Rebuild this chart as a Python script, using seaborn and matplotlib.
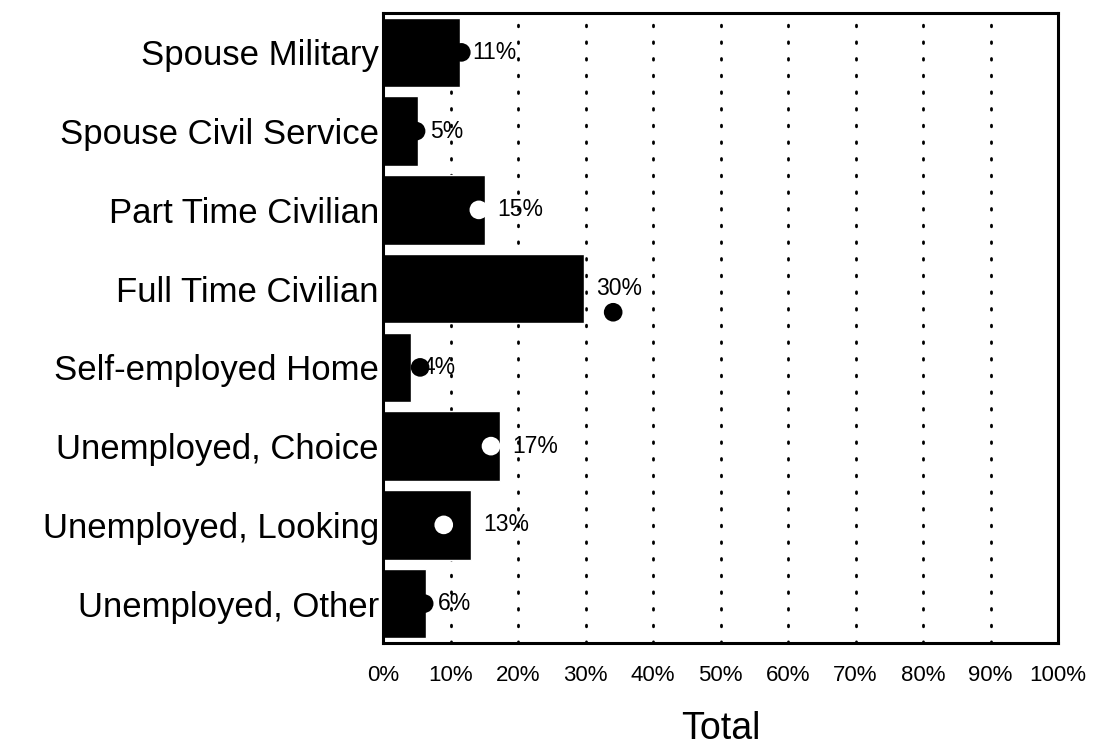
import numpy as np
import pandas as pd
import matplotlib
matplotlib.use('Agg')
import matplotlib.pyplot as plt
import seaborn as sns

categories = ['Spouse Military', 'Spouse Civil Service', 'Part Time Civilian',
              'Full Time Civilian', 'Self-employed Home', 'Unemployed, Choice',
              'Unemployed, Looking', 'Unemployed, Other']
bar_pct = [11.4, 5.2, 15.1, 29.8, 4.1, 17.4, 13.0, 6.4]
dot_pct = [11.6, 4.9, 14.2, 34.1, 5.5, 16.0, 9.0, 6.1]
xticks = [0, 10, 20, 30, 40, 50, 60, 70, 80, 90, 100]

df = pd.DataFrame({'cat': categories, 'bar': np.array(bar_pct) / 100,
                   'dot': np.array(dot_pct) / 100})

sns.set_style('white')
plt.rcParams['font.family'] = ['Liberation Sans', 'DejaVu Sans']
plt.rcParams['text.color'] = 'black'
plt.rcParams['xtick.color'] = 'black'
plt.rcParams['ytick.color'] = 'black'
plt.rcParams['axes.labelcolor'] = 'black'

fig = plt.figure(figsize=(10.95, 7.48), dpi=100)
ax = fig.add_axes([383/1095, 1-643/748, (1058-383)/1095, (643-13)/748])

# dotted grid behind bars
for t in xticks[1:-1]:
    ax.axvline(t/100, color='black', lw=2, ls=(0, (0.6, 5.4)), zorder=0,
               dash_capstyle='round')

sns.barplot(data=df, x='bar', y='cat', orient='h', color='black',
            width=0.88, saturation=1, ax=ax)
for p in ax.patches:
    p.set_zorder(2)

# comparison dots: white when sitting inside the bar, black otherwise
pos = np.arange(len(df))
inside = df['dot'] < df['bar'] - 0.005
over_label = df['dot'] > df['bar'] + 0.015
ypos = pos + np.where(over_label, 0.3, 0.0)
ax.scatter(df['dot'], ypos, s=180, c=np.where(inside, 'white', 'black'),
           edgecolors='none', zorder=3)

for i, v in enumerate(df['bar']):
    ax.text(v + 0.018, i, '{:.0f}%'.format(v*100), va='center', ha='left',
            fontsize=16.5, zorder=4)

ax.set_xlim(0, 1)
ax.set_ylim(len(df) - 0.5, -0.5)
ax.set_xticks([t/100 for t in xticks])
ax.set_xticklabels(['{}%'.format(t) for t in xticks], fontsize=16)
ax.tick_params(axis='y', labelsize=25, length=0, pad=3)
ax.tick_params(axis='x', length=0, pad=16)
ax.set_ylabel('')
ax.set_xlabel('Total', fontsize=27, labelpad=18)
for s in ax.spines.values():
    s.set_visible(True)
    s.set_color('black')
    s.set_linewidth(2.2)

plt.savefig('out.png', dpi=100)
